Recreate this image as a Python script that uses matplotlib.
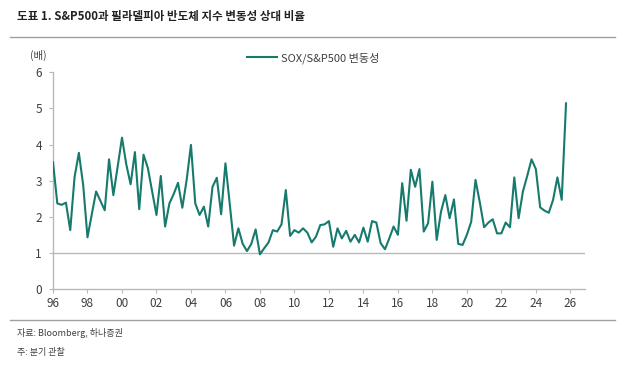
import matplotlib
matplotlib.use("Agg")
import matplotlib.pyplot as plt
from matplotlib.lines import Line2D

plt.rcParams['font.family'] = ['Noto Sans CJK KR', 'DejaVu Sans']

title = "도표 1. S&P500과 필라델피아 반도체 지수 변동성 상대 비율"
series_name = "SOX/S&P500 변동성"
y_unit = "(배)"
source = "자료: Bloomberg, 하나증권"
note = "주: 분기 관찰"

start_year = 1996.0
ratio = [3.51, 2.37, 2.33, 2.39, 1.63, 3.10, 3.77, 2.88, 1.43, 2.07,
         2.70, 2.44, 2.18, 3.59, 2.60, 3.39, 4.19, 3.45, 2.90, 3.79,
         2.21, 3.72, 3.35, 2.70, 2.05, 3.13, 1.73, 2.37, 2.63, 2.94,
         2.25, 3.02, 3.99, 2.37, 2.05, 2.28, 1.73, 2.83, 3.08, 2.07,
         3.48, 2.35, 1.20, 1.68, 1.25, 1.05, 1.25, 1.65, 0.96, 1.13,
         1.29, 1.63, 1.59, 1.79, 2.74, 1.47, 1.63, 1.56, 1.68, 1.56,
         1.29, 1.45, 1.77, 1.79, 1.88, 1.17, 1.68, 1.40, 1.61, 1.31,
         1.50, 1.29, 1.70, 1.31, 1.88, 1.84, 1.27, 1.10, 1.40, 1.73,
         1.50, 2.93, 1.89, 3.30, 2.83, 3.32, 1.59, 1.82, 2.97, 1.36,
         2.14, 2.60, 1.96, 2.48, 1.25, 1.22, 1.50, 1.86, 3.02, 2.40,
         1.71, 1.84, 1.93, 1.54, 1.54, 1.84, 1.71, 3.09, 1.96, 2.70,
         3.13, 3.59, 3.32, 2.26, 2.17, 2.11, 2.47, 3.09, 2.47, 5.14]
x_ticks = list(range(1996, 2027, 2))
x_labels = [f"{y % 100:02d}" for y in x_ticks]
y_ticks = [0, 1, 2, 3, 4, 5, 6]

xs = [start_year + i / 4 for i in range(len(ratio))]

W, H = 625, 374
fig = plt.figure(figsize=(W / 100, H / 100), dpi=100)
ax = fig.add_axes([53 / W, 1 - 289 / H, (585 - 53) / W, (289 - 72.3) / H])

line_color = '#167a6d'
grid_color = '#b8b8b8'
text_color = '#404040'

ax.axhline(1, color=grid_color, lw=1.0, zorder=1)
ax.plot(xs, ratio, color=line_color, lw=1.5, zorder=3, label=series_name)

ax.set_xlim(1996, 2026.85)
ax.set_ylim(0, 6)
ax.set_xticks(x_ticks)
ax.set_xticklabels(x_labels)
ax.set_yticks(y_ticks)
for s in ['top', 'right']:
    ax.spines[s].set_visible(False)
for s in ['left', 'bottom']:
    ax.spines[s].set_color(grid_color)
    ax.spines[s].set_linewidth(1.0)
ax.tick_params(axis='both', colors=grid_color, labelcolor=text_color,
               labelsize=8.5, length=3, width=0.8, direction='out')
ax.tick_params(axis='x', pad=3)
ax.tick_params(axis='y', pad=5)

fig.text(38 / W, 1 - 55 / H, y_unit, fontsize=7.5, color=text_color,
         ha='center', va='center')

fig.legend(handles=[Line2D([0], [0], color=line_color, lw=1.5)],
           labels=[series_name], loc='center',
           bbox_to_anchor=(313 / W, 1 - 58 / H), frameon=False,
           fontsize=8, handlelength=2.7, handletextpad=0.4,
           labelcolor=text_color)

fig.text(17 / W, 1 - 16 / H, title, fontsize=8.3, fontweight='bold',
         color='#222222', ha='left', va='center')
fig.add_artist(Line2D([10 / W, 615 / W], [1 - 37 / H, 1 - 37 / H],
                      color='#a0a0a0', lw=1.0, transform=fig.transFigure))
fig.add_artist(Line2D([10 / W, 615 / W], [1 - 320 / H, 1 - 320 / H],
                      color='#a0a0a0', lw=1.0, transform=fig.transFigure))
fig.text(17 / W, 1 - 333 / H, source, fontsize=6.5, color=text_color,
         ha='left', va='center')
fig.text(17 / W, 1 - 352 / H, note, fontsize=6.5, color=text_color,
         ha='left', va='center')

fig.savefig("out.png", dpi=100)
